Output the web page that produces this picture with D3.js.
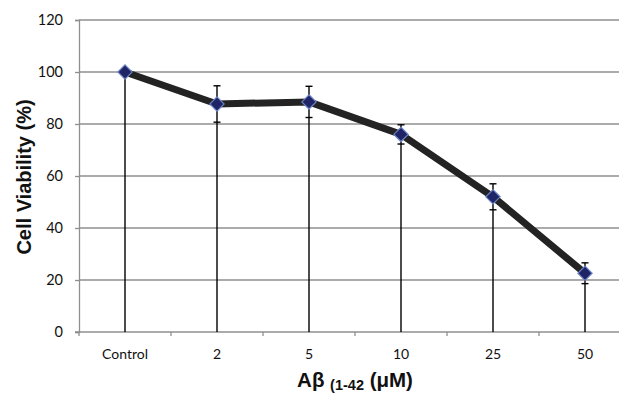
<!DOCTYPE html>
<html>
<head>
<meta charset="utf-8">
<script src="https://cdn.jsdelivr.net/npm/d3@7"></script>
<style>
  html, body { margin: 0; padding: 0; background: #fff; }
  svg { display: block; font-family: Lato, "Open Sans", sans-serif; }
</style>
</head>
<body>
<svg id="chart" width="619" height="396"></svg>
<script>
// data
const categories = ["Control", "2", "5", "10", "25", "50"];
const viability = [100, 87.7, 88.5, 76, 52, 22.6];
const errors = [0, 7, 6, 3.7, 5, 4];
const yTicks = [0, 20, 40, 60, 80, 100, 120];

const width = 619, height = 396;
const margin = { top: 20, right: -12, bottom: 64, left: 79 };

const $svg = d3.select("#chart");

const x = d3.scaleBand()
  .domain(categories)
  .range([margin.left, width - margin.right]);

const y = d3.scaleLinear()
  .domain([0, 120])
  .range([height - margin.bottom, margin.top]);

const gridColor = "#8f8f8f";
const titleFont = "'Liberation Sans', Arial, sans-serif";

// horizontal grid
$svg.append("g")
  .selectAll("line")
  .data(yTicks.filter(d => d > 0))
  .join("line")
    .attr("x1", margin.left)
    .attr("x2", width)
    .attr("y1", d => y(d))
    .attr("y2", d => y(d))
    .attr("stroke", gridColor)
    .attr("stroke-width", 1.3);

// y axis
const yAxis = d3.axisLeft(y).tickValues(yTicks).tickSize(4).tickPadding(12);
$svg.append("g")
  .attr("transform", `translate(${margin.left},0)`)
  .call(yAxis)
  .call(g => g.selectAll("path, line").attr("stroke", gridColor).attr("stroke-width", 1.3))
  .call(g => g.selectAll("text").attr("font-size", 14.5).attr("fill", "#111").attr("font-family", "Lato"));

// x axis: ticks sit on band boundaries
const bounds = categories.map(c => x(c)).concat([x(categories[categories.length - 1]) + x.bandwidth()]);
const $xAxis = $svg.append("g");
$xAxis.append("line")
  .attr("x1", margin.left - 4).attr("x2", width)
  .attr("y1", y(0)).attr("y2", y(0))
  .attr("stroke", gridColor).attr("stroke-width", 1.3);
$xAxis.selectAll("line.tick")
  .data(bounds)
  .join("line")
    .attr("class", "tick")
    .attr("x1", d => d).attr("x2", d => d)
    .attr("y1", y(0)).attr("y2", y(0) + 4)
    .attr("stroke", gridColor).attr("stroke-width", 1.3);
$xAxis.selectAll("text")
  .data(categories)
  .join("text")
    .attr("x", d => x(d) + x.bandwidth() / 2)
    .attr("y", y(0) + 27)
    .attr("text-anchor", "middle")
    .attr("font-size", 14)
    .attr("fill", "#111")
    .text(d => d);

const cx = (d, i) => x(categories[i]) + x.bandwidth() / 2;

// error bars: stem runs from upper cap down to the axis
const $err = $svg.append("g").attr("stroke", "#000").attr("stroke-width", 1.4);
$err.selectAll("line.stem")
  .data(viability)
  .join("line")
    .attr("class", "stem")
    .attr("x1", cx).attr("x2", cx)
    .attr("y1", (d, i) => y(d + errors[i]))
    .attr("y2", y(0));
$err.selectAll("line.hi")
  .data(viability)
  .join("line")
    .attr("class", "hi")
    .attr("x1", (d, i) => cx(d, i) - 3.5).attr("x2", (d, i) => cx(d, i) + 3.5)
    .attr("y1", (d, i) => y(d + errors[i]))
    .attr("y2", (d, i) => y(d + errors[i]));
$err.selectAll("line.lo")
  .data(viability)
  .join("line")
    .attr("class", "lo")
    .attr("x1", (d, i) => cx(d, i) - 3.5).attr("x2", (d, i) => cx(d, i) + 3.5)
    .attr("y1", (d, i) => y(d - errors[i]))
    .attr("y2", (d, i) => y(d - errors[i]));

// series line
const line = d3.line()
  .x((d, i) => cx(d, i))
  .y(d => y(d));
$svg.append("path")
  .datum(viability)
  .attr("d", line)
  .attr("fill", "none")
  .attr("stroke", "#232323")
  .attr("stroke-width", 7)
  .attr("stroke-linejoin", "round");

// diamond markers
const diamond = d3.symbol().type(d3.symbolDiamond2).size(130);
$svg.append("g")
  .selectAll("path")
  .data(viability)
  .join("path")
    .attr("d", diamond)
    .attr("transform", (d, i) => `translate(${cx(d, i)},${y(d)})`)
    .attr("fill", "#1e2466")
    .attr("stroke", "#6a82c4")
    .attr("stroke-width", 1.2);

// axis titles
$svg.append("text")
  .attr("transform", `translate(24,177) rotate(-90)`)
  .attr("text-anchor", "middle")
  .attr("dy", "0.35em")
  .attr("font-family", titleFont)
  .attr("font-size", 20)
  .attr("font-weight", "bold")
  .attr("fill", "#111")
  .text("Cell Viability (%)");

const $xt = $svg.append("text")
  .attr("x", 355)
  .attr("y", 387)
  .attr("text-anchor", "middle")
  .attr("font-family", titleFont)
  .attr("font-weight", "bold")
  .attr("fill", "#111");
$xt.append("tspan").attr("font-size", 20.5).text("Aβ ");
$xt.append("tspan").attr("font-size", 14.5).attr("dy", 3).text("(1-42");
$xt.append("tspan").attr("font-size", 20.5).attr("dy", -3).text(" (μM)");
</script>
</body>
</html>
